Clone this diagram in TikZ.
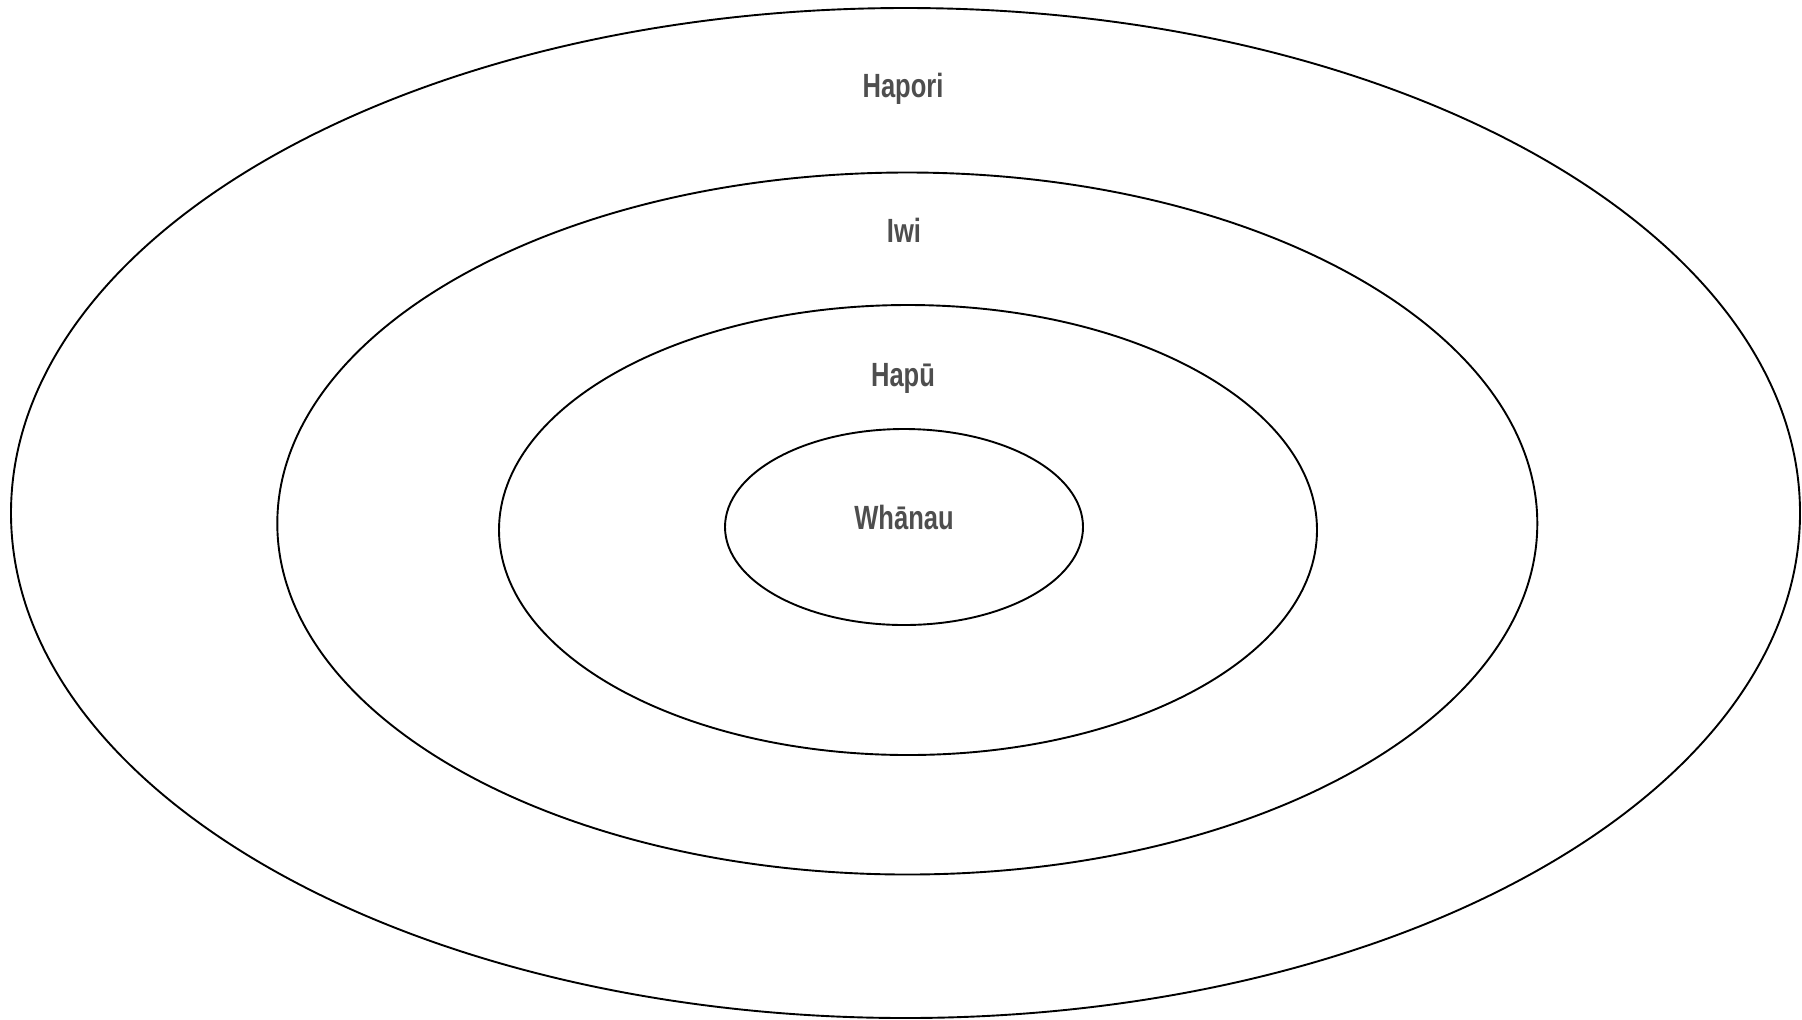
\documentclass[tikz,border=0pt]{standalone}
\usepackage{fontspec}
\setmainfont{Liberation Sans}[FakeStretch=0.76]
\usepackage{tikz}
\usetikzlibrary{positioning}
\definecolor{labelgrey}{RGB}{78,78,78}

\begin{document}
\begin{tikzpicture}[x=0.5pt,y=-0.5pt,line cap=round,line join=round,
  ring/.style={draw=black,line width=0.95pt},
  ringlabel/.style={font=\fontsize{16.8}{20}\selectfont\bfseries,text=labelgrey,anchor=base,inner sep=0pt}]
 \useasboundingbox (0,0) rectangle (1802,1019);
 % Rings, outer to inner.
 \draw[ring] (905.5,513) ellipse [x radius=894.5,y radius=505];
 \draw[ring] (907.3,523.5) ellipse [x radius=630,y radius=351];
 \draw[ring] (908,530) ellipse [x radius=409,y radius=225];
 \draw[ring] (904,527) ellipse [x radius=179,y radius=98];
 % Labels.
 \node[ringlabel] (hapori) at (903,97) {Hapori};
 \node[ringlabel] (iwi) at (904,242) {Iwi};
 \node[ringlabel] (hapu) at (903,386.5) {Hapū};
 \node[ringlabel] (whanau) at (904,529) {Whānau};
\end{tikzpicture}
\end{document}
